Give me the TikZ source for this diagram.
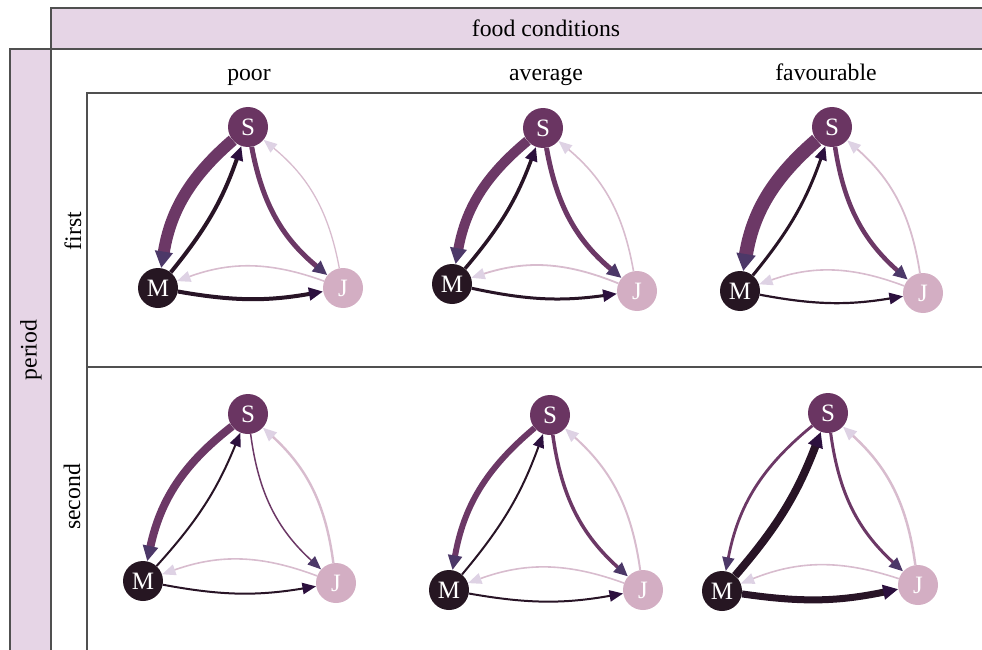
\documentclass[tikz,border=0pt]{standalone}
\usepackage{fontspec}
\setmainfont{Liberation Serif}
\usetikzlibrary{arrows.meta}
\definecolor{band}{RGB}{230,213,230}
\definecolor{frameline}{RGB}{80,80,80}
\definecolor{cS}{RGB}{106,53,98}
\definecolor{cM}{RGB}{38,22,34}
\definecolor{cJ}{RGB}{211,174,195}
\definecolor{eS}{RGB}{108,56,102}
\definecolor{eM}{RGB}{40,20,38}
\definecolor{eJ}{RGB}{216,188,206}
\definecolor{hS}{RGB}{76,56,104}
\definecolor{hM}{RGB}{44,16,62}
\definecolor{hJ}{RGB}{222,210,228}
\tikzset{
  vnode/.style={circle, minimum size=40pt, inner sep=0pt, text=white, font=\fontsize{25}{25}\selectfont},
  hdr/.style={font=\fontsize{23.7}{24}\selectfont, anchor=base},
  rowlbl/.style={font=\fontsize{23.7}{24}\selectfont, rotate=90},
  frm/.style={draw=frameline, line width=1.3pt},
}
\newcommand{\netnodes}[4]{%
  \node[vnode, fill=cS] (#1S) at (#2) {S};
  \node[vnode, fill=cM] (#1M) at (#3) {M};
  \node[vnode, fill=cJ] (#1J) at (#4) {J};}
% from, to, width, line colour, head colour, bend
\newcommand{\arcedge}[6]{%
  \draw[line width=#3pt, draw=#4, bend right=#6,
    -{Triangle[length=13pt 0.3, width=10pt 0.6, color=#5]}] (#1) to (#2);}
\newcommand{\netedges}[7]{%
  \arcedge{#1S}{#1M}{#2}{eS}{hS}{20}
  \arcedge{#1M}{#1S}{#3}{eM}{hM}{10}
  \arcedge{#1S}{#1J}{#4}{eS}{hS}{20}
  \arcedge{#1J}{#1S}{#5}{eJ}{hJ}{20}
  \arcedge{#1M}{#1J}{#6}{eM}{hM}{10}
  \arcedge{#1J}{#1M}{#7}{eJ}{hJ}{20}}
\begin{document}
\begin{tikzpicture}[x=1pt,y=-1pt]
\useasboundingbox (0,0) rectangle (982,650);
% frame
\fill[band] (51,8) rectangle (982,49);
\fill[band] (10,49) rectangle (51,650);
\draw[frm] (982,8) -- (51,8) -- (51,650);
\draw[frm] (10,650) -- (10,49) -- (982,49);
\draw[frm] (982,93) -- (87,93) -- (87,650);
\draw[frm] (87,367) -- (982,367);
% labels
\node[hdr] (food) at (546,37) {food conditions};
\node[hdr] (poor) at (249,81) {poor};
\node[hdr] (average) at (546,81) {average};
\node[hdr] (favourable) at (826,81) {favourable};
\node[rowlbl] (period) at (31,350) {period};
\node[rowlbl] (first) at (73,231) {first};
\node[rowlbl] (second) at (72,497) {second};
% networks
\netnodes{pf}{248,127}{158,288}{343,288}
\netnodes{af}{543,128}{452,284}{637,291}
\netnodes{ff}{832,127}{740,291}{923,293}
\netnodes{ps}{248,414}{143,581}{336,583}
\netnodes{as}{550,415}{449,590}{643,590}
\netnodes{fs}{828,413}{722,591}{918,585}
\netedges{pf}{12}{4}{5}{1.3}{4}{1.6}
\netedges{af}{10}{3.5}{5}{1.6}{3}{1.8}
\netedges{ff}{14}{3}{4.5}{1.8}{2.2}{1.6}
\netedges{ps}{8}{2}{1.5}{2.4}{2}{1.6}
\netedges{as}{6}{2}{3.5}{2}{2}{1.6}
\netedges{fs}{2.8}{8}{3}{2.5}{7}{1.6}
\end{tikzpicture}
\end{document}
